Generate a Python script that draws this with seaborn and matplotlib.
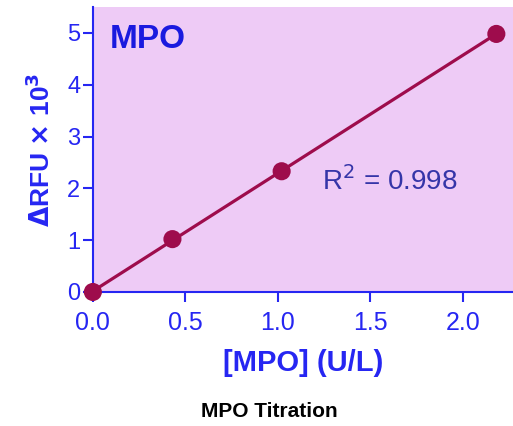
import numpy as np
import pandas as pd
import seaborn as sns
import matplotlib.pyplot as plt

# MPO titration data
mpo_ul = [0.0, 0.43, 1.02, 2.18]
rfu_k = [0.0, 1.02, 2.33, 4.98]
x_ticks = [0.0, 0.5, 1.0, 1.5, 2.0]
y_ticks = [0, 1, 2, 3, 4, 5]

df = pd.DataFrame({'mpo': mpo_ul, 'rfu': rfu_k})

blue = '#2626f2'
line_col = '#9e0c4c'

sns.set_style('white')
plt.rcParams['font.family'] = ['Liberation Sans', 'DejaVu Sans']

fig = plt.figure(figsize=(5.13, 4.26), dpi=100)
ax = fig.add_axes([0.181, 0.3146, 0.819, 0.669])
ax.set_facecolor('#eecbf6')

# fitted line
slope, icpt = np.polyfit(df['mpo'], df['rfu'], 1)
fit_x = np.array([df['mpo'].min(), df['mpo'].max()])
sns.lineplot(x=fit_x, y=slope * fit_x + icpt, ax=ax, color=line_col, lw=2.3)
sns.scatterplot(data=df, x='mpo', y='rfu', ax=ax, color=line_col, s=170,
                edgecolor='none', clip_on=False, zorder=5)

ax.set_xlim(0, 2.27)
ax.set_ylim(0, 5.5)
ax.set_xticks(x_ticks)
ax.set_xticklabels([f'{v:.1f}' for v in x_ticks])
ax.set_yticks(y_ticks)

for s in ['top', 'right']:
    ax.spines[s].set_visible(False)
for s in ['left', 'bottom']:
    ax.spines[s].set_color(blue)
    ax.spines[s].set_linewidth(1.5)
ax.tick_params(axis='both', colors=blue, length=7, width=1.5, direction='out')
ax.tick_params(axis='x', labelsize=18, pad=7)
ax.tick_params(axis='y', labelsize=17, pad=2)
ax.tick_params(bottom=True, left=True)

ax.set_xlabel('[MPO] (U/L)', fontsize=21, fontweight='bold', color=blue, labelpad=10)
ax.set_ylabel(r'$\mathbf{\Delta}$RFU $\mathbf{\times}$ 10$^\mathbf{3}$', fontsize=19,
              fontweight='bold', color=blue, labelpad=9)

ax.text(0.04, 0.94, 'MPO', transform=ax.transAxes, fontsize=24,
        fontweight='bold', color='#1a1adf', va='top', ha='left')
ax.text(1.24, 1.97, r'R$^2$ = 0.998', fontsize=20, color='#3535a8',
        ha='left', va='baseline')

fig.text(0.525, 0.035, 'MPO Titration', fontsize=15, fontweight='bold',
         color='black', ha='center', va='center')

fig.savefig('out.png', dpi=100)
